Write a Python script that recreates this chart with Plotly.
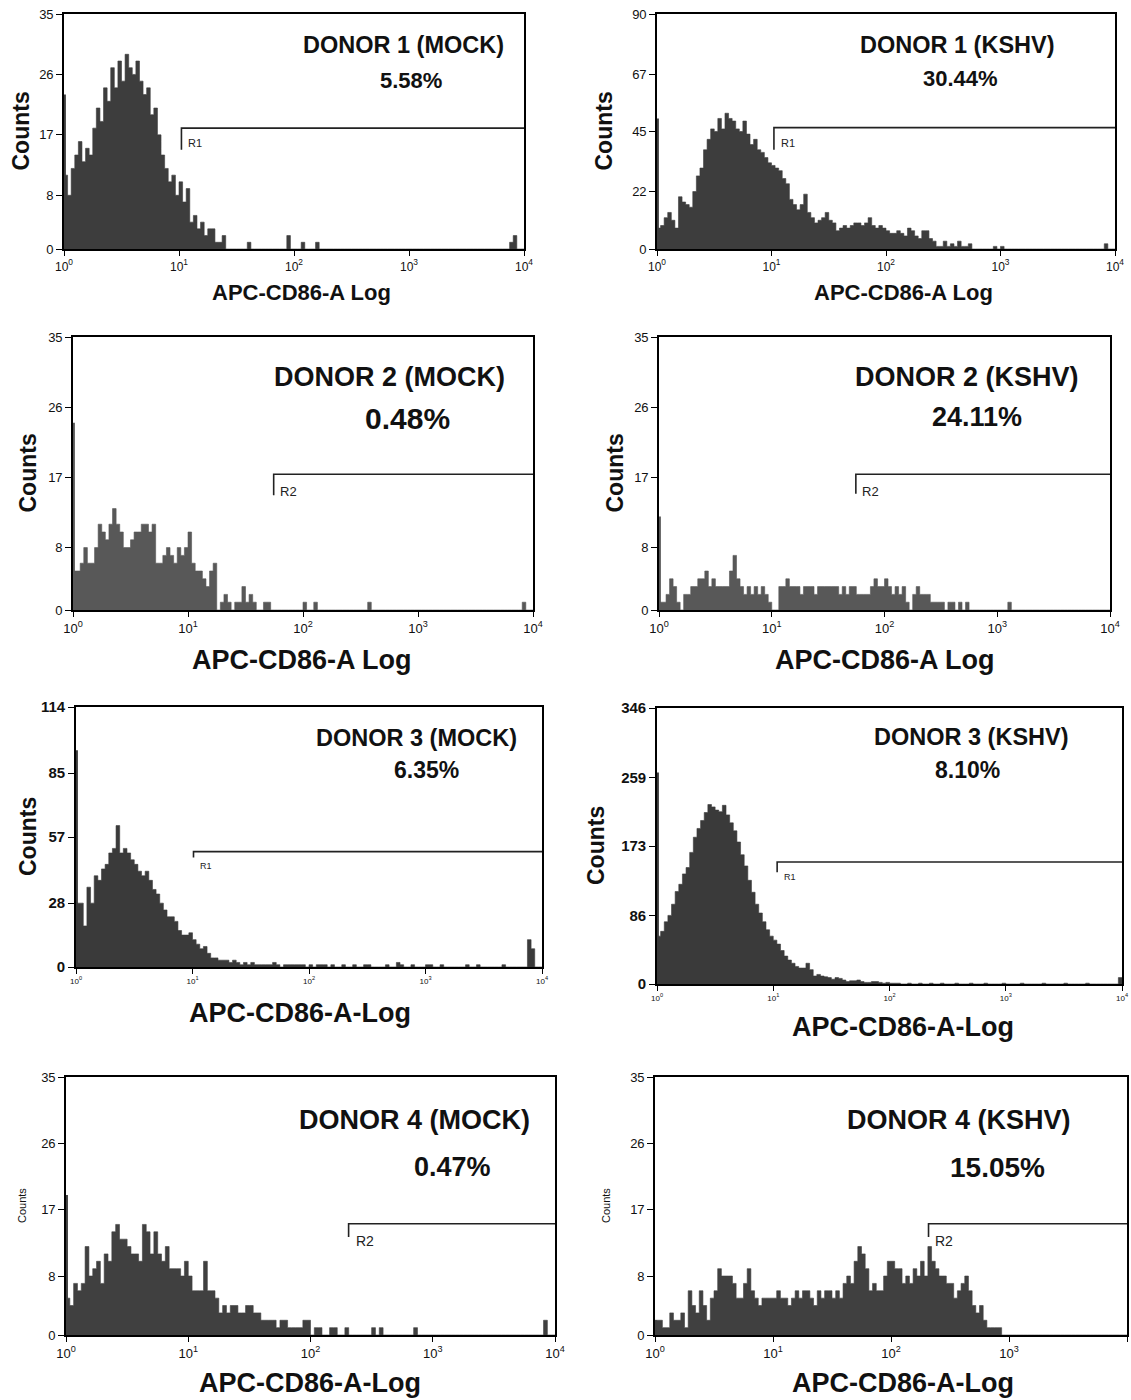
# CD86 flow cytometry histograms, 4 donors, mock vs KSHV
import numpy as np
import plotly.graph_objects as go

W, H = 1131, 1400
N_CH = 128  # channels across the 4 log decades (32 per decade)

# ---- data: counts per channel ----
# *_edge is the pile-up in the very first channel, *_spikes are isolated (channel, count) events
d1_mock_edge = 23
d1_mock = [11, 8, 12, 14, 16, 13, 15, 14, 18, 21, 19, 24, 22, 27, 24, 28, 25, 29, 27, 26,
           28, 25, 23, 24, 20, 21, 17, 14, 12, 10, 11, 8, 10, 7, 9, 4, 5, 3, 4, 2,
           3, 3, 1, 1, 2]
d1_mock_spikes = [(51, 1), (62, 2), (66, 1), (70, 1), (124, 1), (125, 2)]

d1_kshv_edge = 50
d1_kshv = [8, 9, 12, 14, 11, 8, 20, 18, 17, 16, 22, 28, 31, 38, 42, 46, 45, 50, 46, 52,
           50, 49, 46, 45, 49, 44, 40, 42, 38, 37, 35, 33, 32, 31, 30, 27, 25, 19, 17, 15,
           17, 21, 14, 12, 10, 11, 12, 14, 11, 10, 7, 8, 9, 8, 9, 10, 10, 9, 10, 12,
           9, 8, 9, 8, 7, 6, 6, 7, 6, 5, 8, 7, 5, 4, 7, 7, 4, 3, 1, 1,
           3, 1, 2, 1, 3, 1, 1, 2]
d1_kshv_spikes = [(94, 1), (96, 1), (125, 2)]

d2_mock_edge = 24
d2_mock = [5, 5, 6, 8, 6, 6, 8, 11, 10, 9, 11, 13, 11, 10, 8, 8, 9, 10, 10, 11,
           11, 10, 11, 6, 6, 7, 8, 7, 6, 8, 7, 8, 10, 6, 5, 5, 4, 3, 5, 6,
           0, 1, 2, 1, 0, 1, 1, 3, 1, 2, 1, 0, 0, 1, 1]
d2_mock_spikes = [(64, 1), (67, 1), (82, 1), (125, 1)]

d2_kshv_edge = 12
d2_kshv = [1, 1, 2, 4, 3, 1, 0, 2, 2, 3, 3, 4, 4, 5, 3, 4, 3, 3, 3, 3,
           5, 7, 4, 3, 2, 3, 2, 3, 2, 3, 2, 1, 0, 0, 3, 3, 4, 3, 3, 3,
           2, 3, 3, 3, 2, 3, 3, 3, 3, 3, 3, 2, 3, 2, 3, 3, 2, 2, 2, 2,
           3, 4, 3, 3, 4, 3, 2, 3, 2, 3, 1, 0, 2, 3, 2, 2, 2, 1, 1, 1,
           1, 0, 1, 1, 0, 1, 0, 1]
d2_kshv_spikes = [(99, 1)]

d3_mock_edge = 95
d3_mock = [28, 28, 18, 35, 28, 40, 38, 43, 45, 50, 52, 62, 50, 52, 50, 47, 45, 42, 40, 42,
           38, 34, 32, 28, 25, 22, 22, 20, 16, 14, 14, 15, 12, 10, 8, 9, 6, 4, 4, 3,
           3, 3, 2, 3, 2, 1, 2, 1, 2, 1, 1, 1, 1, 1, 2, 1, 0, 1, 1, 1,
           1, 1, 1, 0, 1, 0, 1, 1, 1]
d3_mock_spikes = [(70, 1), (73, 1), (76, 1), (79, 1), (80, 1), (85, 1), (88, 2), (89, 1),
                  (92, 1), (96, 1), (97, 1), (100, 1), (107, 1), (110, 1), (117, 1),
                  (124, 12), (125, 8)]

d3_kshv_edge = 265
d3_kshv = [60, 66, 78, 86, 100, 116, 125, 138, 146, 165, 184, 195, 205, 215, 225, 222, 218, 216, 224, 212,
           202, 192, 178, 162, 148, 130, 115, 100, 89, 78, 68, 60, 55, 50, 42, 35, 30, 26, 22, 20,
           20, 26, 18, 10, 12, 10, 9, 8, 6, 8, 7, 5, 3, 4, 4, 5, 3, 2, 2, 3,
           3, 2, 1, 2, 1, 1, 1]
d3_kshv_spikes = [(69, 1), (72, 1), (75, 1), (78, 1), (82, 1), (86, 1), (90, 1), (95, 1),
                  (100, 1), (106, 1), (112, 1), (118, 1), (127, 8)]

d4_mock_edge = 19
d4_mock = [5, 4, 7, 6, 7, 12, 8, 9, 10, 7, 11, 10, 14, 15, 13, 13, 12, 11, 11, 10,
           15, 14, 11, 14, 11, 10, 12, 9, 9, 9, 8, 10, 8, 6, 6, 6, 10, 6, 6, 5,
           3, 4, 3, 4, 4, 3, 3, 4, 4, 3, 3, 2, 2, 2, 2, 1, 2, 2, 1, 1,
           1, 1, 2, 2, 0, 1, 1, 0, 0, 1, 1, 0, 0, 1]
d4_mock_spikes = [(80, 1), (82, 1), (91, 1), (125, 2)]

d4_kshv_edge = 2
d4_kshv = [2, 2, 1, 1, 3, 2, 2, 3, 1, 6, 4, 3, 6, 4, 2, 5, 6, 9, 8, 8,
           8, 7, 5, 5, 7, 9, 6, 5, 4, 5, 5, 5, 5, 6, 5, 5, 4, 5, 6, 5,
           6, 6, 5, 4, 6, 5, 6, 6, 5, 6, 5, 7, 8, 7, 10, 12, 11, 9, 6, 7,
           6, 6, 8, 10, 10, 9, 9, 7, 8, 7, 9, 8, 10, 8, 12, 10, 9, 8, 8, 7,
           7, 5, 6, 7, 8, 6, 4, 3, 4, 2, 1, 1, 1, 1]
d4_kshv_spikes = []

donor_titles = ["DONOR 1 (MOCK)", "DONOR 1 (KSHV)", "DONOR 2 (MOCK)", "DONOR 2 (KSHV)",
                "DONOR 3 (MOCK)", "DONOR 3 (KSHV)", "DONOR 4 (MOCK)", "DONOR 4 (KSHV)"]
gated_pct = ["5.58%", "30.44%", "0.48%", "24.11%", "6.35%", "8.10%", "0.47%", "15.05%"]
x_titles = ["APC-CD86-A Log", "APC-CD86-A Log", "APC-CD86-A Log", "APC-CD86-A Log",
            "APC-CD86-A-Log", "APC-CD86-A-Log", "APC-CD86-A-Log", "APC-CD86-A-Log"]
y_max = [35, 90, 35, 35, 114, 346, 35, 35]
y_ticks = [[0, 8, 17, 26, 35], [0, 22, 45, 67, 90], [0, 8, 17, 26, 35], [0, 8, 17, 26, 35],
           [0, 28, 57, 85, 114], [0, 86, 173, 259, 346], [0, 8, 17, 26, 35], [0, 8, 17, 26, 35]]
# gate: (start value, bottom of the left tick, level, name)
gates = [(10.5, 14.8, 18, "R1"), (10.5, 38, 46.5, "R1"), (55.6, 14.7, 17.4, "R2"), (55.7, 14.9, 17.4, "R2"),
         (10.2, 48, 50.6, "R1"), (10.8, 140, 153, "R1"), (205, 13.3, 15.1, "R2"), (208, 13.3, 15.1, "R2")]
x_tickvals = [1, 10, 100, 1000, 10000]
x_ticktext = ["10<sup>0</sup>", "10<sup>1</sup>", "10<sup>2</sup>", "10<sup>3</sup>", "10<sup>4</sup>"]

hists = [(d1_mock, d1_mock_edge, d1_mock_spikes), (d1_kshv, d1_kshv_edge, d1_kshv_spikes),
         (d2_mock, d2_mock_edge, d2_mock_spikes), (d2_kshv, d2_kshv_edge, d2_kshv_spikes),
         (d3_mock, d3_mock_edge, d3_mock_spikes), (d3_kshv, d3_kshv_edge, d3_kshv_spikes),
         (d4_mock, d4_mock_edge, d4_mock_spikes), (d4_kshv, d4_kshv_edge, d4_kshv_spikes)]

# ---- layout of the 8 boxes in page pixels: left, right, top, bottom ----
boxes = [(64, 524, 14, 249), (657, 1115, 14, 249),
         (73, 533, 337, 610), (659, 1110, 337, 610),
         (76, 542, 707, 967), (657, 1122, 708, 984),
         (66, 555, 1077, 1335), (655, 1127, 1077, 1335)]
# text placement (px centres): donor title, percent, x title, y title x
donor_pos = [(403, 45), (957, 45), (389, 377), (967, 377), (416, 738), (971, 737), (414, 1120), (959, 1120)]
pct_pos = [(411, 80), (960, 79), (407, 418), (977, 417), (426, 770), (968, 770), (452, 1167), (997, 1167)]
xtitle_pos = [(301, 292), (903, 292), (302, 660), (885, 660), (300, 1013), (903, 1027), (310, 1383), (903, 1383)]
ytitle_x = [20, 603, 28, 615, 28, 596, 22, 606]
# font sizes: donor, pct, x title, y title, y ticks, x ticks, gate label
fsizes = [(23.5, 22, 22, 23, 13, 12, 11), (23.5, 22, 22, 23, 13, 12, 11),
          (27, 30, 27, 23, 13, 13, 13), (27, 27, 27, 23, 13, 13, 13),
          (23.5, 23, 27, 23, 15, 8, 9), (23.5, 23, 27, 23, 15, 8, 9),
          (27, 27, 27, 11, 13, 13, 14), (27, 28, 27, 11, 13, 13, 14)]
fill_cols = ["#3d3d3d", "#3d3d3d", "#585858", "#585858", "#3a3a3a", "#3a3a3a", "#404040", "#404040"]

FONT = "Liberation Sans, Arial, sans-serif"
edges = 10 ** (np.arange(N_CH + 1) * 4 / N_CH)

def full_counts(main, spikes):
    c = np.zeros(N_CH)
    c[:len(main)] = main
    for ch, v in spikes:
        c[ch] = v
    return c

def text_at(x, y, text, size, angle=0):
    return dict(x=x / W, y=1 - y / H, xref="paper", yref="paper", text=text, textangle=angle,
                xanchor="center", yanchor="middle", showarrow=False,
                font=dict(family=FONT, size=size, color="#111"))

fig = go.Figure()
annotations = []
for i in range(8):
    n = i + 1
    xa, ya = "x%d" % n, "y%d" % n
    main, edge, spikes = hists[i]
    counts = full_counts(main, spikes)
    fd, fp, fxt, fyt, fyk, fxk, fg = fsizes[i]

    # histogram as filled step line
    fig.add_trace(go.Scatter(x=edges, y=np.append(counts, counts[-1]), mode="lines", line_shape="hv",
                             line=dict(color=fill_cols[i], width=0.6), fill="tozeroy", fillcolor=fill_cols[i],
                             xaxis=xa, yaxis=ya, showlegend=False, hoverinfo="skip"))
    # first-channel pile-up
    fig.add_trace(go.Scatter(x=[10 ** (0.25 / 32)] * 2, y=[0, edge], mode="lines",
                             line=dict(color=fill_cols[i], width=2), xaxis=xa, yaxis=ya,
                             showlegend=False, hoverinfo="skip"))
    # gate bracket
    gx, gbot, glev, gname = gates[i]
    fig.add_trace(go.Scatter(x=[gx, gx, 10000], y=[gbot, glev, glev], mode="lines",
                             line=dict(color="#222", width=1.6), xaxis=xa, yaxis=ya,
                             showlegend=False, hoverinfo="skip"))
    annotations.append(dict(x=np.log10(gx) + 0.04, y=glev - 0.03 * y_max[i], xref=xa, yref=ya,
                            text=gname, showarrow=False, xanchor="left", yanchor="top",
                            font=dict(family=FONT, size=fg, color="#222")))

    L, R, T, B = boxes[i]
    axis_kw = dict(showline=True, linecolor="black", mirror=True, showgrid=False, zeroline=False,
                   ticks="outside", ticklen=5, tickcolor="black")
    fig.layout["xaxis%d" % n] = dict(axis_kw, type="log", range=[0, 4], domain=[L / W, R / W], anchor=ya,
                                     tickvals=x_tickvals, ticktext=x_ticktext, linewidth=2.2,
                                     tickfont=dict(family=FONT, size=fxk, color="#111"))
    fig.layout["yaxis%d" % n] = dict(axis_kw, range=[0, y_max[i]], domain=[1 - B / H, 1 - T / H], anchor=xa,
                                     tickvals=y_ticks[i], linewidth=1.6, ticklen=6,
                                     tickfont=dict(family=FONT, size=fyk, color="#111",
                                                   weight="bold" if i in (4, 5) else "normal"))

    # texts
    annotations.append(text_at(*donor_pos[i], "<b>%s</b>" % donor_titles[i], fd))
    annotations.append(text_at(*pct_pos[i], "<b>%s</b>" % gated_pct[i], fp))
    annotations.append(text_at(*xtitle_pos[i], "<b>%s</b>" % x_titles[i], fxt))
    ytxt = "Counts" if i >= 6 else "<b>Counts</b>"
    annotations.append(text_at(ytitle_x[i], (T + B) / 2, ytxt, fyt, angle=-90))

fig.update_layout(width=W, height=H, autosize=False,
                  margin=dict(l=0, r=0, t=0, b=0, autoexpand=False),
                  paper_bgcolor="white", plot_bgcolor="white", annotations=annotations)
# page body has an 8px default margin; drop it so the figure sits at the page origin
fig.write_html("out.html", config={"displayModeBar": False},
               post_script="document.body.style.margin='0px';")
